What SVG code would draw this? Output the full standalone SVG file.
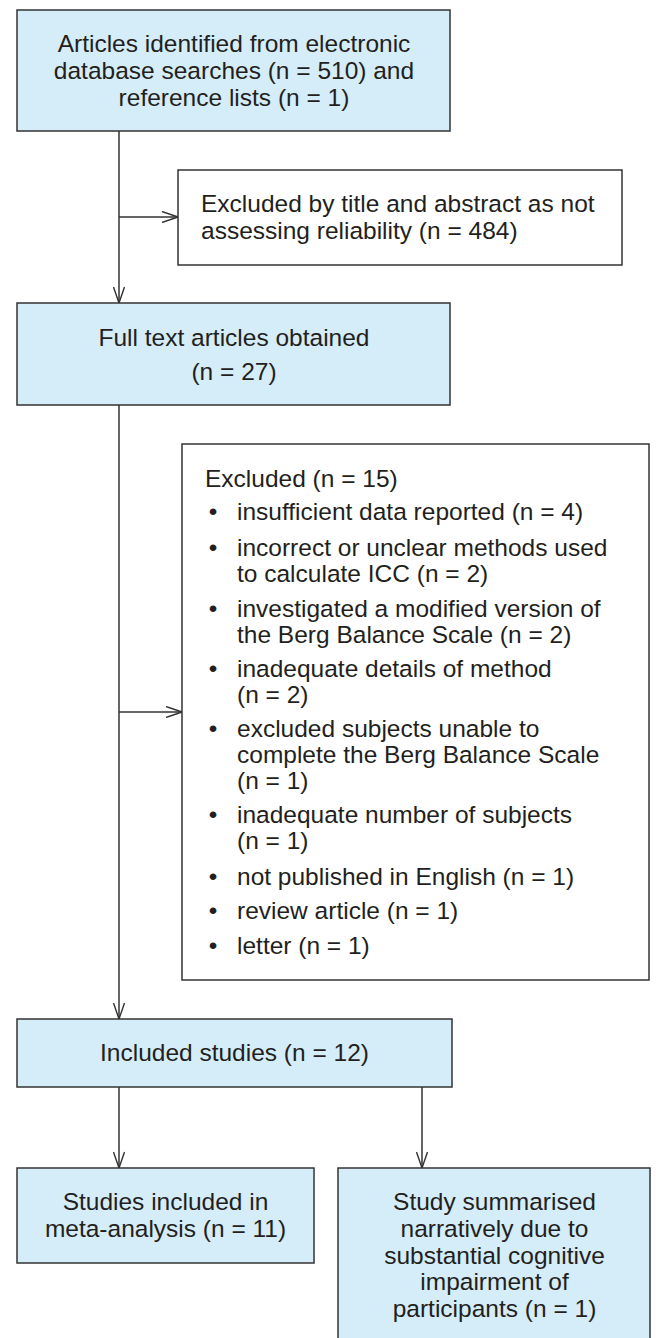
<svg xmlns="http://www.w3.org/2000/svg" width="656" height="1338" viewBox="0 0 656 1338">
<style>
.box{fill:#d5ecf9;stroke:#333;stroke-width:1.5}
.wbox{fill:#fff;stroke:#333;stroke-width:1.5}
text{font-family:"Liberation Sans",Arial,sans-serif;font-size:24.5px;fill:#231f20}
.c{text-anchor:middle}
.ln{fill:none;stroke:#333;stroke-width:1.5}
</style>
<defs>
<marker id="arr" viewBox="0 0 18 12" refX="17" refY="6" markerWidth="18" markerHeight="12" orient="auto" markerUnits="userSpaceOnUse">
<path d="M1,0.5 L17,6 L1,11.5" fill="none" stroke="#333" stroke-width="1.4"/>
</marker>
</defs>
<rect width="656" height="1338" fill="#fff"/>
<g id="connectors">
<path class="ln" d="M119,131 V303" marker-end="url(#arr)"/>
<path class="ln" d="M119,217 H178" marker-end="url(#arr)"/>
<path class="ln" d="M119,405 V1019" marker-end="url(#arr)"/>
<path class="ln" d="M119,712 H182" marker-end="url(#arr)"/>
<path class="ln" d="M119,1087 V1168" marker-end="url(#arr)"/>
<path class="ln" d="M422,1087 V1168" marker-end="url(#arr)"/>
</g>
<g id="identified">
<rect class="box" x="17" y="10" width="433" height="121"/>
<text class="c" x="234" y="52">Articles identified from electronic</text>
<text class="c" x="234" y="79">database searches (n = 510) and</text>
<text class="c" x="234" y="106">reference lists (n = 1)</text>
</g>
<g id="excluded1">
<rect class="wbox" x="178" y="170" width="444" height="95"/>
<text x="201" y="212">Excluded by title and abstract as not</text>
<text x="201" y="239">assessing reliability (n = 484)</text>
</g>
<g id="fulltext">
<rect class="box" x="17" y="303" width="433" height="102"/>
<text class="c" x="234" y="346">Full text articles obtained</text>
<text class="c" x="234" y="380">(n = 27)</text>
</g>
<g id="excluded2">
<rect class="wbox" x="182" y="444" width="467" height="536"/>
<text x="205" y="487">Excluded (n = 15)</text>
<text x="213" y="520" class="c">•</text><text x="237" y="520">insufficient data reported (n = 4)</text>
<text x="213" y="556" class="c">•</text><text x="237" y="556">incorrect or unclear methods used</text>
<text x="237" y="582">to calculate ICC (n = 2)</text>
<text x="213" y="617" class="c">•</text><text x="237" y="617">investigated a modified version of</text>
<text x="237" y="643">the Berg Balance Scale (n = 2)</text>
<text x="213" y="677" class="c">•</text><text x="237" y="677">inadequate details of method</text>
<text x="237" y="703">(n = 2)</text>
<text x="213" y="737" class="c">•</text><text x="237" y="737">excluded subjects unable to</text>
<text x="237" y="763">complete the Berg Balance Scale</text>
<text x="237" y="789">(n = 1)</text>
<text x="213" y="823" class="c">•</text><text x="237" y="823">inadequate number of subjects</text>
<text x="237" y="849">(n = 1)</text>
<text x="213" y="885" class="c">•</text><text x="237" y="885">not published in English (n = 1)</text>
<text x="213" y="919" class="c">•</text><text x="237" y="919">review article (n = 1)</text>
<text x="213" y="954" class="c">•</text><text x="237" y="954">letter (n = 1)</text>
</g>
<g id="included">
<rect class="box" x="17" y="1019" width="435" height="68"/>
<text class="c" x="234.5" y="1061">Included studies (n = 12)</text>
</g>
<g id="meta">
<rect class="box" x="17" y="1168" width="297" height="95"/>
<text class="c" x="165.5" y="1210">Studies included in</text>
<text class="c" x="165.5" y="1237">meta-analysis (n = 11)</text>
</g>
<g id="narrative">
<rect class="box" x="338" y="1168" width="312" height="172"/>
<text class="c" x="494.5" y="1210">Study summarised</text>
<text class="c" x="494.5" y="1237">narratively due to</text>
<text class="c" x="494.5" y="1264">substantial cognitive</text>
<text class="c" x="494.5" y="1290">impairment of</text>
<text class="c" x="494.5" y="1317">participants (n = 1)</text>
</g>
</svg>
